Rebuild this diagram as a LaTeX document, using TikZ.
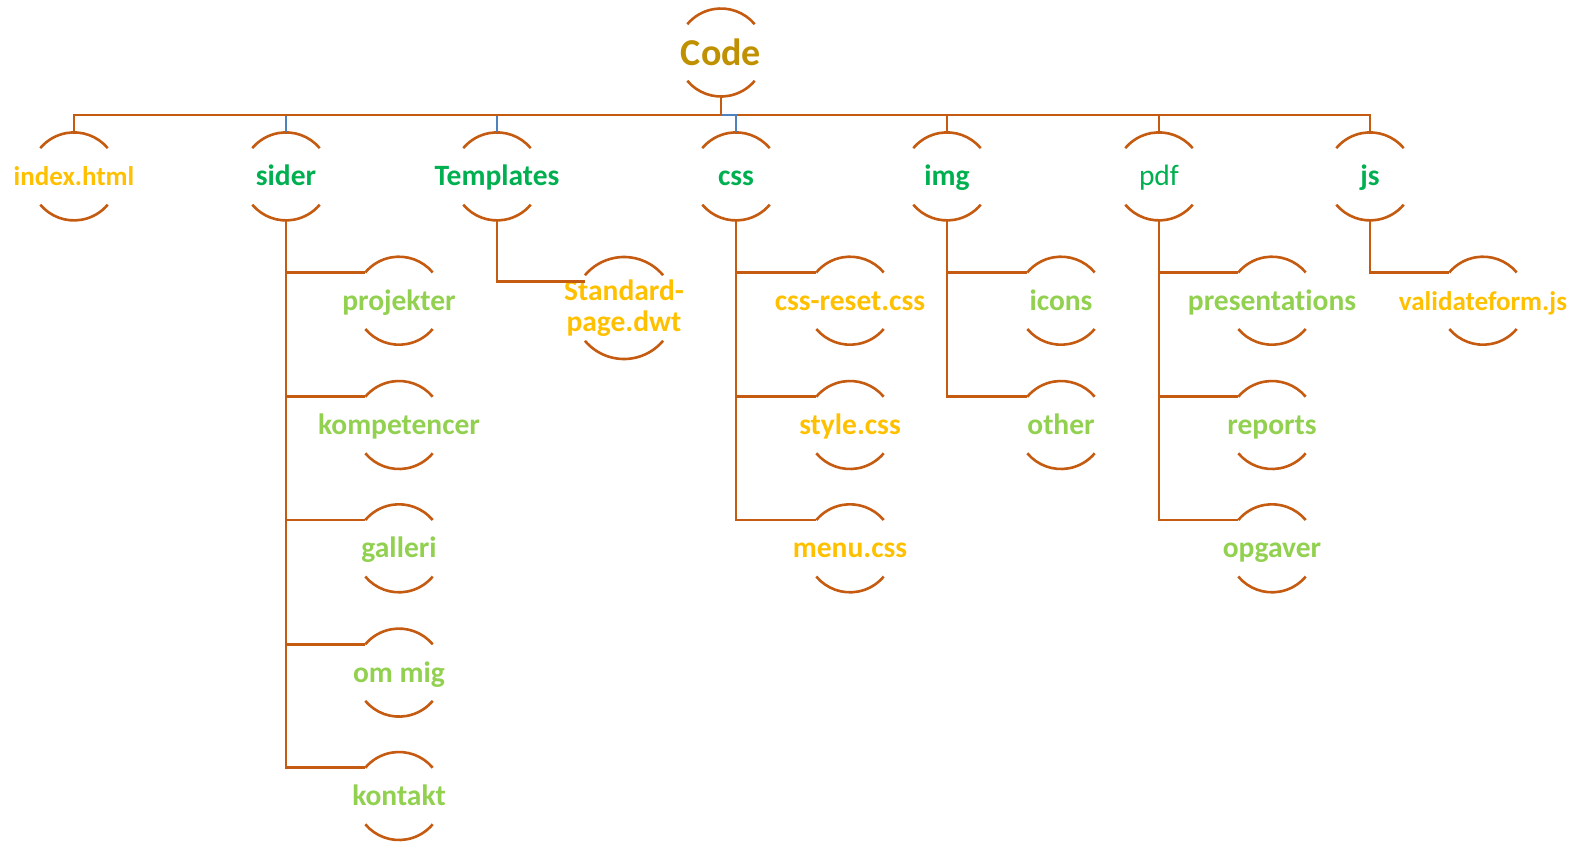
\documentclass[tikz,border=0pt]{standalone}
\usepackage{fontspec}
\setmainfont[Ligatures=NoCommon]{Carlito}
\usepackage{xcolor}
\usetikzlibrary{positioning, calc}

\definecolor{linkorange}{HTML}{C55A11}
\definecolor{linkblue}{HTML}{4F81BD}
\definecolor{codegold}{HTML}{BF9000}
\definecolor{fileyellow}{HTML}{FFC000}
\definecolor{dirgreen}{HTML}{00B050}
\definecolor{subgreen}{HTML}{92D050}

\begin{document}
\begin{tikzpicture}[x=1pt, y=1pt,
    folder/.style={inner sep=0pt, text height=19pt, text depth=0pt, font=\fontsize{29.5}{31}\selectfont\bfseries},
    smallfolder/.style={folder, font=\fontsize{27}{30}\selectfont\bfseries},
    bracket/.style={draw=linkorange, line width=2.6pt},
    link/.style={draw=linkorange, line width=2.6pt},
    bluelink/.style={draw=linkblue, line width=2.6pt}]
    \useasboundingbox (0,0) rectangle (1572,-841);

    % Root
    \node[inner sep=0pt, text height=25pt, text depth=0pt, font=\fontsize{38}{42}\selectfont\bfseries, codegold] (code) at (721,-52.5) {Code};

    % First level
    \node[smallfolder, fileyellow] (index) at (74,-176.4) {index.html};
    \node[folder, dirgreen] (sider) at (286,-176.4) {sider};
    \node[folder, dirgreen] (templates) at (497,-176.4) {Templates};
    \node[folder, dirgreen] (css) at (736,-176.4) {css};
    \node[folder, dirgreen] (img) at (947,-176.4) {img};
    \node[folder, dirgreen, font=\fontsize{29.5}{31}\selectfont\mdseries] (pdf) at (1159,-176.4) {pdf};
    \node[folder, dirgreen] (js) at (1370,-176.4) {js};

    % sider
    \node[folder, subgreen] (projekter) at (399,-300.7) {projekter};
    \node[folder, subgreen] (kompetencer) at (399,-425) {kompetencer};
    \node[folder, subgreen] (galleri) at (399,-548.3) {galleri};
    \node[folder, subgreen] (ommig) at (399,-672.6) {om mig};
    \node[folder, subgreen] (kontakt) at (399,-796) {kontakt};

    % Templates
    \node[inner sep=0pt, align=center, font=\fontsize{29.5}{31}\selectfont\bfseries, fileyellow] (standard) at (624,-308) {Standard-\\page.dwt};

    % css
    \node[folder, fileyellow] (cssreset) at (850,-300.7) {css-reset.css};
    \node[folder, fileyellow] (style) at (850,-425) {style.css};
    \node[folder, fileyellow] (menu) at (850,-548.3) {menu.css};

    % img
    \node[folder, subgreen] (icons) at (1061,-300.7) {icons};
    \node[folder, subgreen] (other) at (1061,-425) {other};

    % pdf
    \node[folder, subgreen] (presentations) at (1272,-300.7) {presentations};
    \node[folder, subgreen] (reports) at (1272,-425) {reports};
    \node[folder, subgreen] (opgaver) at (1272,-548.3) {opgaver};

    % js
    \node[smallfolder, fileyellow] (validate) at (1483,-300.7) {validateform.js};

    % Brackets round every text
    \foreach \n in {code,index,sider,templates,css,img,pdf,js,projekter,kompetencer,galleri,ommig,kontakt,cssreset,style,menu,icons,other,presentations,reports,opgaver,validate} {
        \draw[bracket] ($(\n.center)+(40:44pt)$) arc[start angle=40, end angle=140, radius=44pt]
                       ($(\n.center)+(220:44pt)$) arc[start angle=220, end angle=320, radius=44pt];
        \coordinate (\n-top) at ($(\n.center)+(0,44pt)$);
        \coordinate (\n-bot) at ($(\n.center)+(0,-44pt)$);
        \coordinate (\n-in) at ($(\n.center)+(140:44pt)$);
    }
    \draw[bracket] ($(standard.center)+(40:51pt)$) arc[start angle=40, end angle=140, radius=51pt]
                   ($(standard.center)+(220:51pt)$) arc[start angle=220, end angle=320, radius=51pt];
    \coordinate (standard-in) at ($(standard.center)+(-39pt,26.5pt)$);

    % Bus under the root
    \coordinate (bus) at (721,-115);
    \draw[link] (bus) -| (img-top);
    \draw[link] (bus) -| (pdf-top);
    \draw[link] (bus) -| (js-top);
    \draw[bluelink] (bus) -| (sider-top);
    \draw[bluelink] (bus) -| (templates-top);
    \draw[bluelink] (bus) -| (css-top);
    \draw[link] (code-bot) -- (bus) -| (index-top);

    % Children
    \foreach \c in {projekter,kompetencer,galleri,ommig,kontakt}
        \draw[link] (sider-bot) |- (\c-in);
    \draw[link] (templates-bot) |- (standard-in);
    \foreach \c in {cssreset,style,menu}
        \draw[link] (css-bot) |- (\c-in);
    \foreach \c in {icons,other}
        \draw[link] (img-bot) |- (\c-in);
    \foreach \c in {presentations,reports,opgaver}
        \draw[link] (pdf-bot) |- (\c-in);
    \draw[link] (js-bot) |- (validate-in);
\end{tikzpicture}
\end{document}
